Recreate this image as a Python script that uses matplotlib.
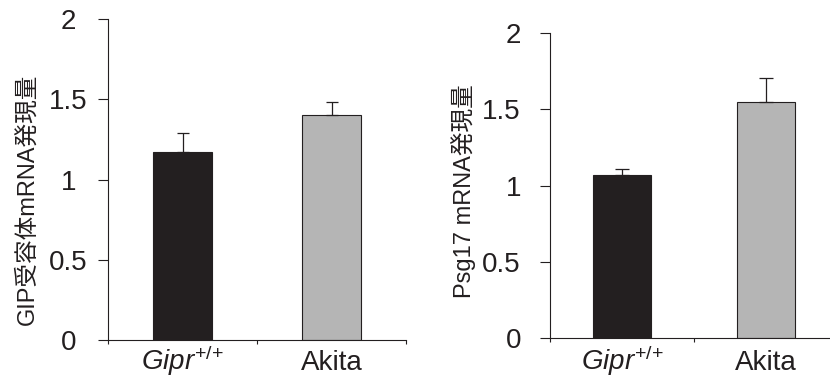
import matplotlib
matplotlib.use("Agg")
import matplotlib.pyplot as plt
import numpy as np

plt.rcParams["font.family"] = ["Liberation Sans", "Noto Sans CJK JP"]
plt.rcParams["mathtext.fontset"] = "custom"
plt.rcParams["mathtext.it"] = "Liberation Sans:italic"
plt.rcParams["mathtext.rm"] = "Liberation Sans"

# group labels and measured expression (mean, upper SE)
groups = [r"$\mathit{Gipr}^{\mathrm{{+}/{+}}}$", "Akita"]
gip_mean = [1.17, 1.40]
gip_err = [0.12, 0.08]
psg17_mean = [1.07, 1.545]
psg17_err = [0.035, 0.16]
yticks = [0, 0.5, 1, 1.5, 2]
ytick_labels = ["0", "0.5", "1", "1.5", "2"]

ink = "#231f20"
bar_colors = [ink, "#b5b5b5"]

W, H = 830, 379
fig = plt.figure(figsize=(W / 100, H / 100), dpi=100)


def px_axes(x0, x1, ytop, ybot):
    return fig.add_axes([x0 / W, 1 - ybot / H, (x1 - x0) / W, (ybot - ytop) / H])


def draw_panel(ax, means, errs, ylabel, label_xy, ytick_ha, ytick_pad, xtick_pad, capsize):
    x = np.arange(len(means))
    ax.bar(x, means, width=0.4, color=bar_colors, edgecolor=ink, linewidth=0.8, zorder=2)
    ax.errorbar(x, means, yerr=[np.zeros(len(errs)), errs], fmt="none",
                ecolor=ink, elinewidth=0.9, capsize=capsize, capthick=0.9, zorder=3)
    ax.set_xlim(-0.5, 1.5)
    ax.set_ylim(0, 2)
    ax.set_yticks(yticks)
    ax.set_yticklabels(ytick_labels, fontsize=20, ha=ytick_ha)
    ax.tick_params(axis="y", direction="out", length=7.2, width=0.8, color=ink,
                   pad=ytick_pad, labelcolor=ink)
    # category labels between boundary ticks
    ax.set_xticks(x)
    ax.set_xticklabels(groups, fontsize=20, color=ink, va="baseline")
    ax.tick_params(axis="x", which="major", length=0, pad=xtick_pad)
    ax.set_xticks([-0.5, 0.5, 1.5], minor=True)
    ax.tick_params(axis="x", which="minor", direction="out", length=3, width=0.8, color=ink)
    for side in ["top", "right"]:
        ax.spines[side].set_visible(False)
    for side in ["left", "bottom"]:
        ax.spines[side].set_color(ink)
        ax.spines[side].set_linewidth(0.8)
    ax.set_ylabel(ylabel, fontsize=17, color=ink, va="center")
    ax.yaxis.set_label_coords(*label_xy)


ax1 = px_axes(108, 406, 19, 340)
draw_panel(ax1, gip_mean, gip_err, "GIP受容体mRNA発現量", (-0.272, 0.439),
           "center", 21.2, 21.5, 4.3)

ax2 = px_axes(550, 838, 33, 338)
draw_panel(ax2, psg17_mean, psg17_err, "Psg17 mRNA発現量", (-0.302, 0.480),
           "right", 13.7, 23, 5)

fig.savefig("out.png", dpi=100)
